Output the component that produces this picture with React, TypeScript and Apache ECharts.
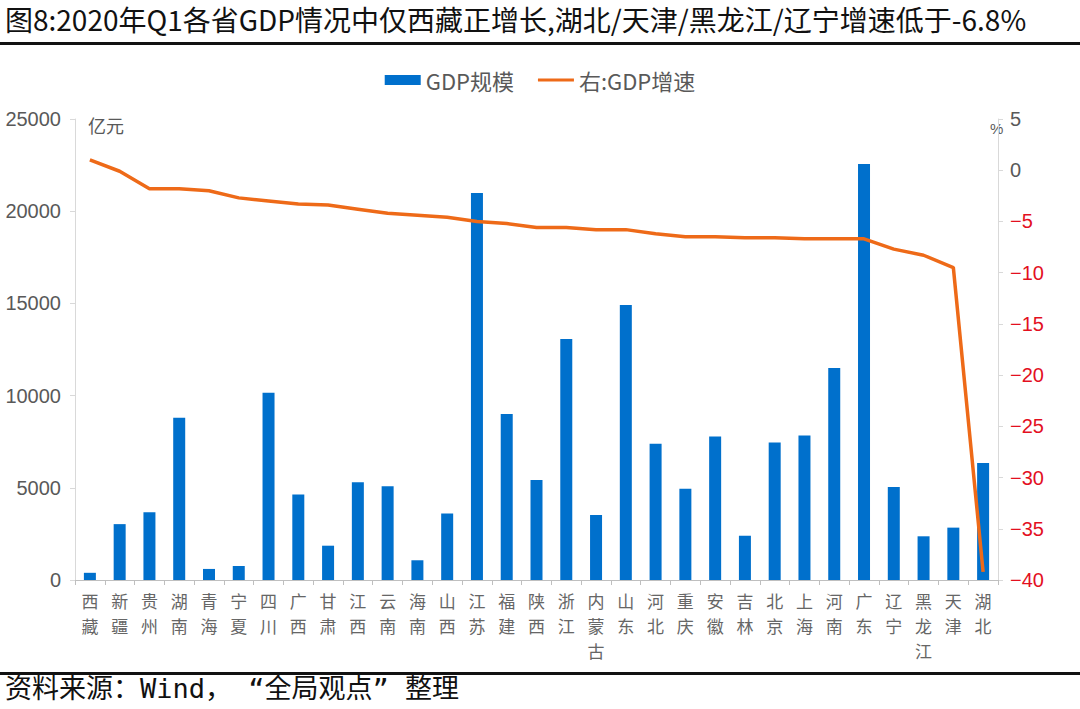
import React, { useEffect, useRef } from "react";
import * as echarts from "echarts";

const provinces = ["西藏","新疆","贵州","湖南","青海","宁夏","四川","广西","甘肃","江西","云南","海南","山西","江苏","福建","陕西","浙江","内蒙古","山东","河北","重庆","安徽","吉林","北京","上海","河南","广东","辽宁","黑龙江","天津","湖北"];
const gdpScale = [390,3030,3670,8800,600,760,10160,4640,1860,5300,5080,1070,3600,20990,9000,5420,13070,3520,14910,7390,4950,7780,2400,7450,7830,11500,22560,5050,2370,2840,6350];
const gdpGrowth = [1.0,-0.1,-1.8,-1.8,-2.0,-2.7,-3.0,-3.3,-3.4,-3.8,-4.2,-4.4,-4.6,-5.0,-5.2,-5.6,-5.6,-5.8,-5.8,-6.2,-6.5,-6.5,-6.6,-6.6,-6.7,-6.7,-6.7,-7.7,-8.3,-9.5,-39.2];
const leftTicks = { min: 0, max: 25000, interval: 5000 };
const rightTicks = { min: -40, max: 5, interval: 5 };
const titleText = "图8:2020年Q1各省GDP情况中仅西藏正增长,湖北/天津/黑龙江/辽宁增速低于-6.8%";
const sourceText = "资料来源：Wind， “全局观点” 整理";

export default function App() {
  const ref = useRef<HTMLDivElement>(null);
  useEffect(() => {
    document.body.style.margin = "0";
    const chart = echarts.init(ref.current!, null, { renderer: "svg" });
    const gray = "#595959";
    const red = "#e3101f";
    const charAxis = (idx: number, offset: number) => ({
      type: "category",
      data: provinces,
      position: "bottom",
      offset,
      boundaryGap: true,
      axisLine: { show: idx === 0, lineStyle: { color: "#bfbfbf" } },
      axisTick: { show: idx === 0, length: 5, lineStyle: { color: "#bfbfbf" } },
      axisLabel: {
        interval: 0,
        margin: 12,
        fontSize: 17,
        lineHeight: 17,
        color: "#666",
        fontFamily: "Noto Sans CJK SC",
        formatter: (v: string) => v.charAt(idx) || "",
      },
    });
    chart.setOption({
      animation: false,
      backgroundColor: "#fff",
      grid: { left: 75, right: 82, top: 119, bottom: 129 },
      legend: {
        top: 64,
        left: "center",
        itemGap: 24,
        itemWidth: 36,
        itemHeight: 12,
        textStyle: { fontSize: 22, color: gray, fontFamily: "Noto Sans CJK SC" },
        data: [
          { name: "GDP规模", icon: "path://M0,0M0,1H36V11H0ZM36,12" },
          { name: "右:GDP增速", icon: "path://M0,0M0,4.5H36V7.5H0ZM36,12" },
        ],
      },
      xAxis: [charAxis(0, 0), charAxis(1, 25), charAxis(2, 50)],
      yAxis: [
        {
          type: "value",
          ...leftTicks,
          axisLine: { show: true, lineStyle: { color: "#d9d9d9" } },
          axisTick: { show: true, length: 5, lineStyle: { color: "#d9d9d9" } },
          splitLine: { show: false },
          axisLabel: { fontSize: 20, color: gray, margin: 14, fontFamily: "Liberation Sans", formatter: (v: number) => String(v) },
        },
        {
          type: "value",
          ...rightTicks,
          position: "right",
          axisLine: { show: true, lineStyle: { color: "#d9d9d9" } },
          axisTick: { show: true, length: 5, lineStyle: { color: "#d9d9d9" } },
          splitLine: { show: false },
          axisLabel: {
            margin: 12,
            fontSize: 20,
            fontFamily: "Liberation Sans",
            color: "#595959",
            formatter: (v: number) => (v < 0 ? "{r|−" + Math.abs(v) + "}" : "{g|" + v + "}"),
            rich: {
              r: { color: red, fill: red, fontSize: 20, fontFamily: "Liberation Sans" },
              g: { color: gray, fontSize: 20, fontFamily: "Liberation Sans" },
            },
          },
        },
      ],
      series: [
        {
          name: "GDP规模",
          type: "bar",
          data: gdpScale,
          barWidth: 12,
          itemStyle: { color: "#0070CC" },
          xAxisIndex: 0,
          yAxisIndex: 0,
        },
        {
          name: "右:GDP增速",
          type: "line",
          data: gdpGrowth,
          xAxisIndex: 0,
          yAxisIndex: 1,
          symbol: "none",
          lineStyle: { color: "#EE6A18", width: 3.5 },
          itemStyle: { color: "#EE6A18" },
        },
      ],
      graphic: [
        { type: "text", left: 5, top: 5, style: { text: titleText, fontSize: 28, fill: "#111", fontFamily: "Noto Sans CJK SC" } },
        { type: "rect", shape: { x: 0, y: 42, width: 1080, height: 3 }, style: { fill: "#111" } },
        { type: "text", left: 88, top: 116, style: { text: "亿元", fontSize: 18, fill: gray, fontFamily: "Noto Sans CJK SC" } },
        { type: "text", left: 990, top: 121, style: { text: "%", fontSize: 15, fill: gray, fontFamily: "Liberation Sans" } },
        { type: "rect", shape: { x: 0, y: 672, width: 1080, height: 3 }, style: { fill: "#111" } },
        { type: "text", left: 5, top: 675, style: { text: sourceText, fontSize: 27, fill: "#111", fontFamily: "DejaVu Sans Mono, Noto Sans CJK SC" } },
      ],
    });
    return () => chart.dispose();
  }, []);
  return <div ref={ref} style={{ position: "absolute", left: 0, top: 0, width: 1080, height: 709 }} />;
}
